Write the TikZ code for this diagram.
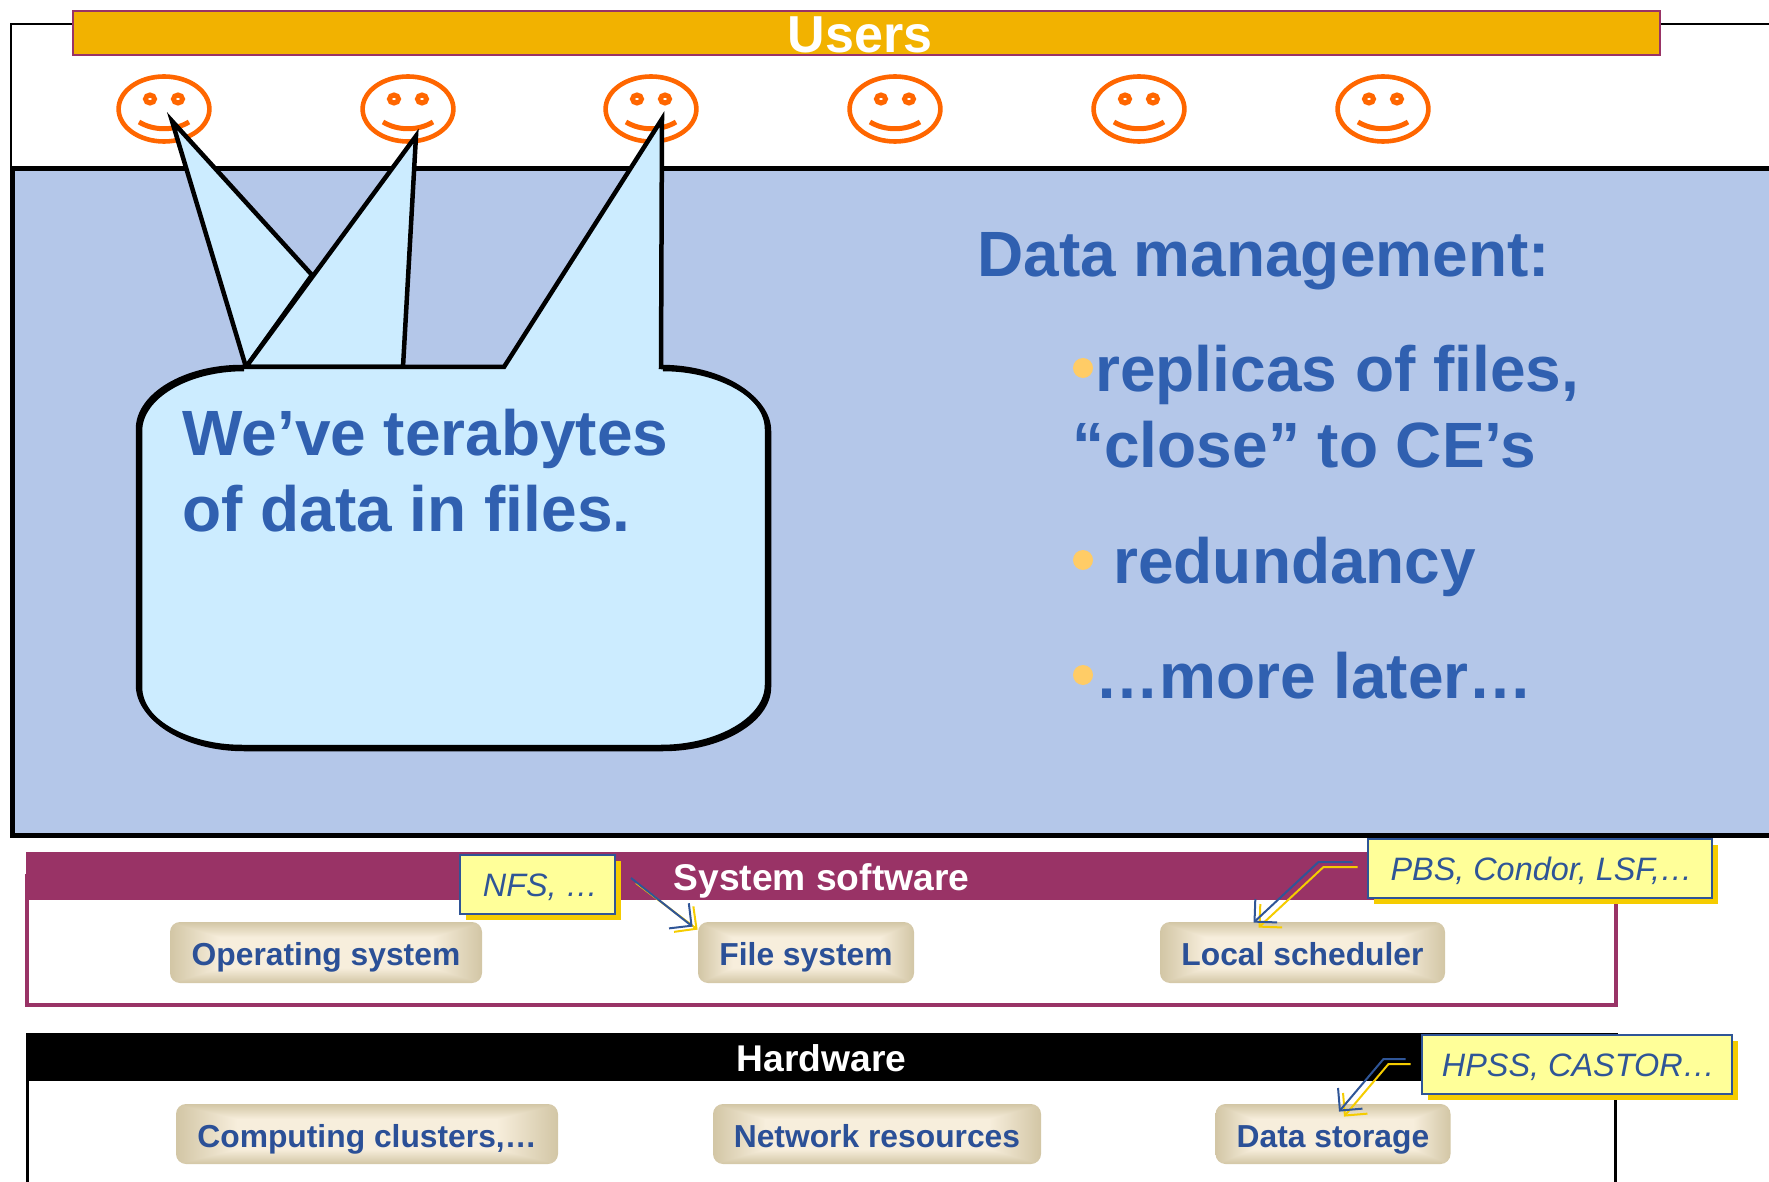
\documentclass[tikz,border=0pt]{standalone}
\usepackage{fontspec}
\setmainfont{Liberation Sans}
\usetikzlibrary{positioning, calc, arrows.meta, shadows}

\definecolor{usersgold}{HTML}{F2B200}
\definecolor{sysmagenta}{HTML}{993366}
\definecolor{panelblue}{HTML}{B4C7E9}
\definecolor{bubbleblue}{HTML}{CCECFF}
\definecolor{headblue}{HTML}{3060B0}
\definecolor{boxblue}{HTML}{2B5097}
\definecolor{smileorange}{HTML}{FF6600}
\definecolor{dotyellow}{HTML}{FFCC66}
\definecolor{notefill}{HTML}{FFFF99}
\definecolor{noteedge}{HTML}{2F5597}
\definecolor{noteshadow}{HTML}{F5CC00}

\pgfdeclarefunctionalshading{tanshade}{\pgfpointorigin}{\pgfpoint{100bp}{100bp}}{}{
    25 sub dup 50 exch sub 2 copy gt {exch} if pop 12.5 div
    exch
    25 sub dup 50 exch sub 2 copy gt {exch} if pop 8 div
    2 copy gt {exch} if pop
    dup 1 gt {pop 1} if
    dup 0 lt {pop 0} if
    dup .145 mul .824 add exch
    dup .157 mul .776 add exch
    .216 mul .647 add
}

\begin{document}
\begin{tikzpicture}[
            x=0.5pt, y=-0.5pt,
            barnode/.style = {inner sep=0pt, text=white, font=\bfseries\fontsize{18.6}{22}\selectfont, minimum width=796pt, minimum height=24pt,
                    text height=14pt, text depth=0pt},
            tanbox/.style = {inner sep=0pt, rounded corners=5pt, shading=tanshade, text=boxblue, font=\bfseries\fontsize{15.9}{20}\selectfont,
                    minimum height=30.5pt, text height=13pt, text depth=0pt},
            notebox/.style = {inner sep=0pt, draw=noteedge, line width=1pt, fill=notefill, text=noteedge, minimum height=29.5pt,
                    font=\itshape\fontsize{16.2}{20}\selectfont, text height=12.5pt, text depth=0pt,
                    drop shadow={shadow xshift=3pt, shadow yshift=-3pt, fill=noteshadow, opacity=1}},
            notearrow/.style = {draw=noteedge, line width=1pt, -{Straight Barb[length=8pt, width=16pt]}},
            notearrowb/.style = {draw=noteshadow, line width=1pt, -{Straight Barb[length=8pt, width=16pt]}},
            bigtext/.style = {inner sep=0pt, anchor=base west, text=headblue, align=left, font=\bfseries\fontsize{32}{38}\selectfont},
            bullet/.style = {circle, inner sep=0pt, minimum size=10pt, fill=dotyellow},
            bubble/.style = {draw=black, line width=2.25pt, fill=bubbleblue, line join=miter}
        ]
        \clip (0,0) rectangle (1769,1182);

        % users frame and panel
        \draw[line width=1pt] (11,170) -- (11,24) -- (1800,24);
        \node (usersbar) [inner sep=0pt, draw=sysmagenta, line width=1pt, fill=usersgold, text=white, minimum width=793.5pt, minimum height=22pt,
            font=\bfseries\fontsize{26}{26}\selectfont, text height=19.5pt, text depth=0pt] at (866,33.5) {\hspace*{-6pt}Users};
        \foreach \cx in {164,408,651,895,1139,1383} {
            \draw[smileorange, line width=2.3pt] (\cx,109) ellipse [x radius=45.4, y radius=32.5];
            \draw[smileorange, line width=2.5pt] (\cx-14,99) ellipse [x radius=4.5, y radius=4];
            \draw[smileorange, line width=2.5pt] (\cx+14,99) ellipse [x radius=4.5, y radius=4];
            \draw[smileorange, line width=2.5pt] (\cx-25,122) .. controls (\cx-10,131) and (\cx+10,131) .. (\cx+25,122);
        }
        \draw[line width=2.5pt, fill=panelblue] (12,168.5) rectangle (1800,835);

        % speech bubbles
        \draw[bubble] (246,367) -- (172,121) -- (312,275) -- cycle;
        \draw[bubble] (246,367) -- (416,136) -- (403,367) -- cycle;
        \draw[bubble] (242,367) -- (504,367) -- (662,119) -- (661,367)
            .. controls (718,367) and (767,395) .. (767,429) -- (767,685)
            .. controls (767,719) and (718,747) .. (661,747) -- (242,747)
            .. controls (185,747) and (138,719) .. (138,685) -- (138,429)
            .. controls (138,395) and (185,367) .. (242,367) -- cycle;
        \draw[line width=2.25pt, xshift=1pt, yshift=-1pt] (661,367)
            .. controls (718,367) and (767,395) .. (767,429) -- (767,685)
            .. controls (767,719) and (718,747) .. (661,747) -- (242,747)
            .. controls (185,747) and (138,719) .. (138,685) -- (138,429)
            .. controls (138,395) and (185,367) .. (242,367);
        \node (weve) [bigtext] at (182,531) {We’ve terabytes\\of data in files.};

        % data management text
        \node (dmtitle)  [bigtext] at (977,277) {Data management:};
        \node (replicas) [bigtext] at (1072,467) {\hspace*{11.5pt}replicas of files,\\“close” to CE’s};
        \node (redund)   [bigtext] at (1113,583) {redundancy};
        \node (later)    [bigtext] at (1095,698) {…more later…};
        \node (dota) [bullet] at (1083,368) {};
        \node (dotb) [bullet] at (1083,560) {};
        \node (dotc) [bullet] at (1083,675) {};

        % system software
        \draw[sysmagenta, line width=1.75pt] (27,876) rectangle (1616,1005);
        \node (sysbar) [barnode, fill=sysmagenta] at (821.5,876) {System software};
        \node (opsys)      [tanbox, minimum width=156pt]   at (326,952.5)    {Operating system};
        \node (filesys)    [tanbox, minimum width=108pt]   at (806,952.5)    {File system};
        \node (localsched) [tanbox, minimum width=142.5pt] at (1302.5,952.5) {Local scheduler};

        % hardware
        \draw[line width=1.5pt] (27,1300) -- (27,1057) -- (1615,1057) -- (1615,1300);
        \node (hwbar) [barnode, fill=black] at (821.5,1057) {Hardware};
        \node (clusters)  [tanbox, minimum width=191pt, minimum height=30pt]   at (367,1134)  {Computing clusters,…};
        \node (netres)    [tanbox, minimum width=164pt, minimum height=30pt]   at (877,1134)  {Network resources};
        \node (datastore) [tanbox, minimum width=117.5pt, minimum height=30pt] at (1333,1134) {Data storage};

        % notes
        \node (nfs)  [notebox, minimum width=77.5pt]  at (537.5,884) {\hspace*{3pt}NFS, …};
        \node (pbs)  [notebox, minimum width=172pt] at (1539.5,868)  {\hspace*{2pt}PBS, Condor, LSF,…};
        \node (hpss) [notebox, minimum width=155pt] at (1576.5,1064) {\hspace*{2pt}HPSS, CASTOR…};

        \coordinate (nfsfrom)  at ($(nfs.east)+(15,-6)$);
        \coordinate (pbsfrom)  at ($(pbs.west)+(-14,-6)$);
        \coordinate (hpssfrom) at ($(hpss.west)+(-15,-5)$);
        \coordinate (fsto)     at ($(filesys.north west)+(-5,5)$);
        \coordinate (lsto)     at ($(localsched.north)+(-49,1)$);
        \coordinate (dsto)     at ($(datastore.north)+(6,8)$);

        \draw[notearrowb] ($(nfsfrom)+(5,5)$) -- ($(fsto)+(5,3)$);
        \draw[notearrow]  (nfsfrom) -- (fsto);
        \draw[notearrowb] ($(pbsfrom)+(5,5)$) -- ++(-34,0) -- ($(lsto)+(5,5)$);
        \draw[notearrow]  (pbsfrom) -- ++(-34,0) -- (lsto);
        \draw[notearrowb] ($(hpssfrom)+(5,5)$) -- ++(-22,0) -- ($(dsto)+(5,5)$);
        \draw[notearrow]  (hpssfrom) -- ++(-22,0) -- (dsto);
    \end{tikzpicture}
\end{document}
